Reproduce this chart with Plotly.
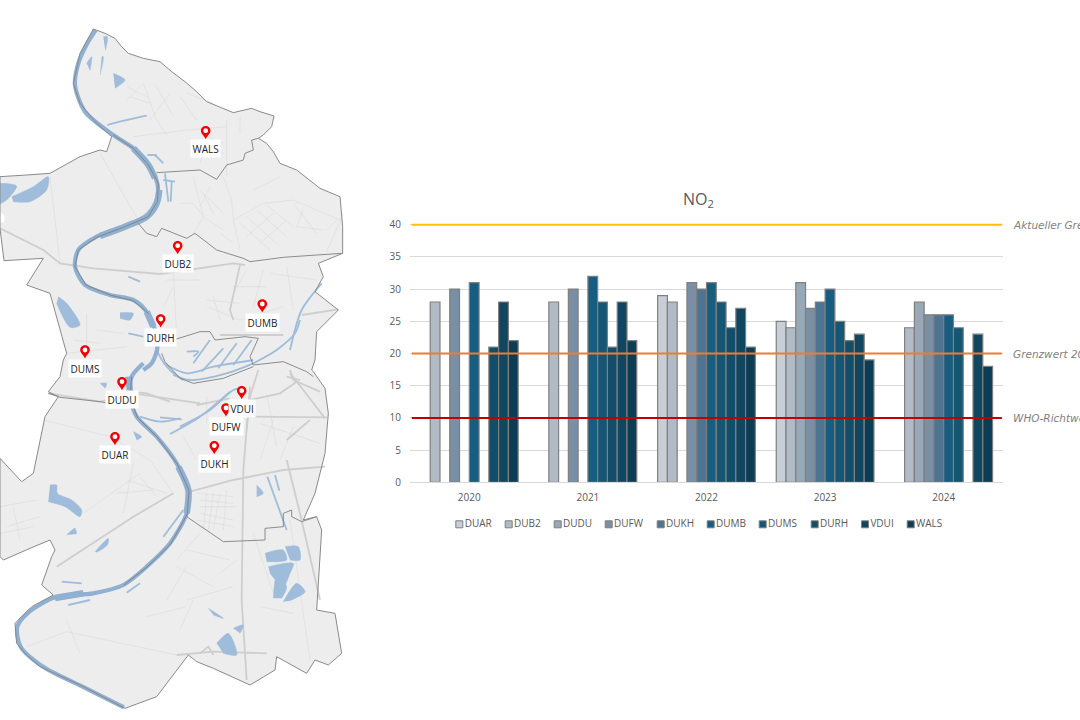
import plotly.graph_objects as go

years = ["2020", "2021", "2022", "2023", "2024"]
stations = ["DUAR", "DUB2", "DUDU", "DUFW", "DUKH", "DUMB", "DUMS", "DURH", "VDUI", "WALS"]

DUAR = [None, None, 29, 25, None]
DUB2 = [28, 28, 28, 24, 24]
DUDU = [None, None, None, 31, 28]
DUFW = [30, 30, 31, 27, 26]
DUKH = [None, None, 30, 28, 26]
DUMB = [31, 32, 31, 30, 26]
DUMS = [None, 28, 28, 25, 24]
DURH = [21, 21, 24, 22, None]
VDUI = [28, 28, 27, 23, 23]
WALS = [22, 22, 21, 19, 18]
series = [DUAR, DUB2, DUDU, DUFW, DUKH, DUMB, DUMS, DURH, VDUI, WALS]

bar_colors = ["#c7ced6", "#b1bbc6", "#98a8b6", "#7a8fa4", "#4d7490",
              "#175d80", "#145674", "#124d69", "#10465f", "#0d3d55"]

limit_values = [40, 20, 10]
limit_colors = ["#ffc000", "#ed7d31", "#c00000"]
limit_names = ["Aktueller Grenzwert", "Grenzwert 2030", "WHO-Richtwert"]

legend_x = [459.3, 508.7, 557.7, 608.7, 660.7, 710.7, 762.7, 814.7, 865, 910.7]

# stations on the map, in picture pixels
pin_x = [115, 177.7, 122, 226, 214.3, 262.3, 85, 160.7, 241.7, 205.7]
pin_y = [436.7, 245.7, 381.7, 408, 445.7, 304, 350, 319, 390.7, 130.7]
label_x = [115, 178, 122, 226, 214, 262, 85, 160.7, 241.7, 205.7]
label_y = [454, 263, 399, 426, 463, 322, 368, 337, 408, 148]

outline_n = [(280,27),(315,40),(345,55),(365,80),(385,100),(430,115),(480,125),(515,155),(555,185),(590,215),(620,245),
             (660,262),(700,278),(755,265),(780,275),(822,288),(815,320),(790,345),(775,355),(800,370),(820,395),(840,430),
             (890,450),(960,505),(1020,530),(1028,620),(1028,700),(955,730),(970,770),(945,815),(1015,870),(950,935),(945,1020),(935,1050)]
outline_s = [(940,35),(975,85),(985,160),(975,280),(945,400),(910,480),(950,470),(965,510),(950,750),(1005,760),
             (1025,880),(985,915),(945,900),(920,940),(830,890),(825,930),(750,975),(640,925),(590,905),(565,885),
             (470,1010),(375,1045),(250,980),(120,920),(80,885),(50,850),(45,790),(95,740),(160,705),(125,675),(155,590),
             (165,570),(150,540),(90,565),(10,600),(0,590),(0,295),(65,365),(100,340),(135,170),(175,110),(145,95),(180,50),(190,0)]
outline_n2 = [(200,1000),(150,820),(80,795),(130,715),(12,722),(0,625),(0,470),(80,465),(150,460),(240,410),
              (300,390),(320,395),(335,350),(290,310),(240,250),(220,190),(240,100),(280,27)]

rhine_n = [(287,30),(262,70),(235,130),(225,195),(255,275),(340,345),(400,385),(445,435),(472,490),(470,540),
           (440,590),(370,620),(290,650),(235,690),(225,740),(255,795),(330,825),(400,840),(440,875),(465,930),(472,985),(455,1030),(430,1050)]
rhine_s = [(430,10),(395,50),(390,110),(410,170),(470,230),(530,310),(565,390),(560,460),(510,550),(440,620),
           (370,675),(280,700),(165,712),(85,758),(52,800),(62,860),(132,922),(252,982),(372,1042)]
rhine_wide_n = [[(400,385),(445,435),(465,475)],[(478,510),(470,550),(440,590),(380,618),(300,648)],[(440,875),(460,920)]]
rhine_wide_s = [[(535,320),(565,390),(560,460)],[(250,700),(165,714)],[(385,50),(392,110)]]
border_n = [[(340,345),(400,385),(445,435),(475,490),(472,545),(445,590),(370,622),(290,652),(235,690),(225,740),(258,795),(330,825),(400,842),(445,880)],
            [(470,458),(600,450),(650,478),(680,435),(730,420),(735,400),(760,390),(755,360),(775,355)],
            [(415,610),(440,640),(470,650),(485,625),(560,655),(585,640),(650,690),(730,715),(750,725),(850,712),(950,705),(1028,700)]]
border_s = [[(395,50),(390,110),(412,172),(472,232),(532,312),(567,392),(562,462),(512,552),(442,620),(372,675)],
            [(560,470),(670,545),(795,540),(795,505),(850,500),(850,460),(875,450),(875,470),(905,485),(950,470)],
            [(145,100),(180,112),(300,125),(380,140)]]
border_p = [[(130,60),(210,35),(240,35),(255,60),(345,50),(385,55),(360,110),(370,135),(460,125),(530,155),(550,170)],
            [(95,100),(105,125),(150,175),(190,190),(280,175),(370,140)]]

water_n = [[(35,530),(100,500),(145,470),(140,510),(90,545),(40,545)],
           [(0,490),(50,498),(20,540),(0,552)],
           [(175,830),(200,850),(240,915),(210,922),(170,850)],
           [(360,878),(400,880),(390,900),(360,895)],
           [(260,130),(275,110),(270,152)],[(305,110),(310,110),(300,165)],
           [(340,160),(375,180),(345,205)],[(310,50),(322,50),(316,92)]]
water_s = [[(150,375),(170,375),(172,400),(215,420),(245,450),(240,470),(195,440),(145,425)],
           [(285,575),(325,535),(322,555),(290,577)],[(200,525),(225,505),(230,522)],
           [(795,580),(850,570),(860,600),(800,605)],[(855,560),(895,560),(900,600),(870,600)],
           [(805,620),(880,610),(870,640),(850,680),(810,640)],[(820,715),(830,650),(860,680),(845,715)],
           [(850,725),(890,670),(915,695),(870,722)],[(650,850),(685,820),(710,885),(670,880)],
           [(700,805),(730,795),(720,820)],[(625,745),(670,775),(640,765)],
           [(400,215),(425,230),(410,240)],[(770,375),(790,400),(770,410)],[(300,70),(320,70),(315,85)]]
channel_n = [[(322,315),(360,305),(440,287)],[(442,405),(470,405)],[(465,405),(490,430)],
             [(495,460),(505,545)],[(490,480),(525,485)],[(515,485),(512,545)],
             [(385,940),(430,950)],[(385,770),(420,785)],[(965,790),(905,870),(870,990)]]
channel_s = [[(510,222),(600,170),(690,95)],[(480,172),(545,178)],
             [(490,530),(550,450)],[(380,698),(420,670)],[(205,735),(270,720)],[(185,665),(245,670)],
             [(802,350),(860,510)],[(825,345),(838,392)]]
channel_p = [[(240,60),(190,130)],[(280,85),(215,155)],[(320,70),(265,145)],[(365,60),(310,135)],
             [(100,130),(170,160),(250,140),(370,120)],[(130,165),(180,180),(290,160),(370,130)],
             [(370,130),(440,90),(495,40),(510,0)],[(170,95),(205,95),(190,110)],[(75,60),(85,100),(120,150),(160,180)],
             [(150,320),(240,270),(310,210),(330,205)],[(30,290),(90,305),(150,295)],[(70,70),(60,30)]]

highway_n = [[(0,625),(130,690),(180,730),(280,745),(480,762),(700,730),(735,735)],
             [(660,945),(850,945)],[(905,885),(1015,868)],
             [(720,735),(690,870),(700,900)]]
highway_s = [[(145,100),(300,125),(400,100),(600,130)],
             [(570,395),(700,360),(850,330),(975,320)],
             [(170,620),(400,470),(520,400)],
             [(750,80),(730,330),(725,720),(740,960)],
             [(870,40),(910,90),(975,175)],[(860,300),(900,460),(960,720)],
             [(530,885),(640,875),(800,880)],
             [(750,170),(980,172)],[(860,240),(930,180)],[(600,880),(625,860),(640,885)]]
highway_p = [[(270,45),(450,45)],[(385,150),(360,230),(350,330)],[(480,150),(490,180),(570,215)],
             [(360,240),(450,220),(500,185)],[(200,255),(300,235)],[(0,215),(50,220),(120,245)],[(470,170),(510,180)]]
street_n = [[(430,190),(470,300),(500,345)],[(380,240),(430,190)],[(560,220),(640,250)],[(400,350),(560,330),(680,320)],
            [(300,400),(420,610)],[(150,470),(180,730)],[(680,300),(680,470)],
            [(520,750),(530,950)],[(620,860),(720,900),(850,860)],[(700,820),(740,750)],[(790,750),(760,860)],[(200,1000),(380,980)],
            [(380,200),(440,230)],[(390,230),(450,250)],[(470,200),(520,290)],[(510,220),(450,300)],[(540,230),(590,300)],
            [(600,340),(670,370)],[(590,400),(670,400)],[(620,360),(600,430)],[(720,290),(720,340)],
            [(700,800),(800,800)],[(620,840),(720,850)],[(640,830),(660,900)],[(520,800),(490,860)],[(500,780),(600,780)],
            [(220,960),(300,970)],[(260,880),(260,1000)],[(290,930),(370,940)],[(810,760),(950,780)],[(860,740),(880,870)]]
street_s = [[(130,180),(330,230),(450,300),(520,400)],[(400,310),(370,460)],[(380,360),(500,400)],[(250,460),(420,340)],
            [(0,440),(110,420)],[(20,500),(120,470)],[(600,420),(700,430)],[(600,460),(700,480)],[(620,400),(610,510)],
            [(660,400),(640,510)],[(530,620),(640,680)],[(560,720),(700,680)],[(500,720),(560,620)],[(440,770),(560,740)],
            [(550,230),(590,300)],[(870,480),(930,900)],[(760,520),(820,700)],[(200,780),(240,880)],[(80,860),(200,815),(530,885)],
            [(590,400),(700,410)],[(600,440),(710,440)],[(590,480),(700,500)],[(640,400),(625,510)],[(680,390),(670,510)],
            [(420,350),(470,410)],[(350,400),(460,390)],[(40,440),(60,540)],[(0,520),(100,500)],
            [(620,110),(620,190)],[(780,190),(960,250)],[(800,100),(830,260)],[(820,180),(780,300)],[(880,200),(840,300)],
            [(560,570),(690,600)],[(530,600),(600,520)],[(540,810),(580,720)],[(660,640),(710,600)],[(780,740),(880,760)]]
street_q = [[(60,60),(130,130)],[(90,50),(60,110)],[(130,20),(155,90),(160,150),(180,240)],[(160,150),(250,100),(340,90),(480,150)],
            [(200,140),(300,230)],[(230,120),(320,200)],[(260,105),(340,170)],[(180,160),(270,240)],[(340,100),(410,190)],
            [(350,170),(430,180)],[(440,180),(470,150)],[(490,130),(440,245)],[(40,20),(70,140),(130,180)],[(0,100),(40,100),(70,140),(40,190)],
            [(200,200),(280,130)],[(240,220),(320,150)],[(70,70),(100,130)],[(120,190),(160,220)],[(370,120),(350,170)],[(220,60),(300,20)]]

holes_n = [[(0,575),(14,590),(12,605),(0,608)]]


def crop(pts, left, top):
    return [left + p[0] / 3 for p in pts], [top + p[1] / 3 for p in pts]


def merge(*groups):
    # one trace per group, parts split by None
    xs, ys = [], []
    for parts, left, top in groups:
        for part in parts:
            x, y = crop(part, left, top)
            xs += x + [None]
            ys += y + [None]
    return xs, ys


N = (0, 20)    # north half
S = (0, 360)   # south half
P = (130, 320) # harbour
Q = (180, 170) # city centre


def map_line(xs, ys, color, width, fill=None, smooth=False):
    fig.add_trace(go.Scatter(x=xs, y=ys, xaxis="x2", yaxis="y2", mode="lines", fill=fill,
                             fillcolor=color if fill else None,
                             line=dict(color=color, width=width, shape="spline" if smooth else "linear", smoothing=0.8),
                             hoverinfo="skip", showlegend=False))


fig = go.Figure()

for name, values, color in zip(stations, series, bar_colors):
    fig.add_trace(go.Bar(x=years, y=values, name=name, marker=dict(color=color, line=dict(color="#7f7f7f", width=1.2))))

ox1, oy1 = crop(outline_n, *N)
ox2, oy2 = crop(outline_s, *S)
ox3, oy3 = crop(outline_n2, *N)
map_line(ox1 + ox2 + ox3, oy1 + oy2 + oy3, "#ededed", 0, fill="toself")

xs, ys = merge((street_n, *N), (street_s, *S), (street_q, *Q))
map_line(xs, ys, "#dadada", 0.6)
xs, ys = merge((highway_n, *N), (highway_s, *S), (highway_p, *P))
map_line(xs, ys, "#cecece", 1.8)
xs, ys = merge((water_n, *N), (water_s, *S))
map_line(xs, ys, "#9fbdda", 0.5, fill="toself", smooth=True)
xs, ys = merge((holes_n, *N))
map_line(xs, ys, "#ffffff", 0, fill="toself", smooth=True)
xs, ys = merge((channel_n, *N), (channel_s, *S), (channel_p, *P))
map_line(xs, ys, "#9fbdda", 1.8, smooth=True)
xs, ys = merge(([rhine_n], *N), ([rhine_s], *S))
map_line(xs, ys, "#8fb0d0", 4.2, smooth=True)
xs, ys = merge((rhine_wide_n, *N), (rhine_wide_s, *S))
map_line(xs, ys, "#8fb0d0", 6.5, smooth=True)
xs, ys = merge((border_n, *N), (border_s, *S), (border_p, *P))
map_line(xs, ys, "#808080", 0.9)
map_line(ox1 + ox2 + ox3, oy1 + oy2 + oy3, "#8a8a8a", 1)

# hand made legend, the built-in one cannot get this tight
fig.add_trace(go.Scatter(x=legend_x, y=[524.3] * len(legend_x), xaxis="x2", yaxis="y2", mode="markers+text",
                         marker=dict(symbol="square", size=7, color=bar_colors, line=dict(color="#7f7f7f", width=1)),
                         text=stations, textposition="middle right",
                         textfont=dict(family="Open Sans", size=10, color="#595959"),
                         hoverinfo="skip", showlegend=False))

for cx, cy in zip(pin_x, pin_y):
    path = (f"M {cx},{cy + 8.5} C {cx - 1.5},{cy + 5} {cx - 4.8},{cy + 3} {cx - 4.8},{cy} "
            f"C {cx - 4.8},{cy - 6.4} {cx + 4.8},{cy - 6.4} {cx + 4.8},{cy} "
            f"C {cx + 4.8},{cy + 3} {cx + 1.5},{cy + 5} {cx},{cy + 8.5} Z")
    fig.add_shape(type="path", path=path, xref="x2", yref="y2", fillcolor="#f00000", line_width=0)
    fig.add_shape(type="circle", xref="x2", yref="y2", x0=cx - 2.4, x1=cx + 2.4, y0=cy - 2.4, y1=cy + 2.4,
                  fillcolor="white", line_width=0)

for name, lx, ly in zip(stations, label_x, label_y):
    fig.add_annotation(x=lx, y=ly, xref="x2", yref="y2", text=name, showarrow=False, bgcolor="white", borderpad=1.5,
                       font=dict(family="Open Sans", size=10, color="#222222"))

for value, color, name in zip(limit_values, limit_colors, limit_names):
    fig.add_shape(type="line", xref="x domain", yref="y", x0=0.003, x1=0.998, y0=value, y1=value,
                  line=dict(color=color, width=2))
    fig.add_annotation(x=1011 / 1080, y=value, xref="paper", yref="y", text=f"<i>{name}</i>", showarrow=False,
                       xanchor="left", font=dict(family="DejaVu Sans", size=10.5, color="#7f7f7f"))

fig.add_annotation(x=698 / 1080, y=199, xref="paper", yref="y2", text="NO<sub>2</sub>", showarrow=False,
                   font=dict(family="Open Sans", size=16, color="#595959"))

fig.update_layout(
    width=1080, height=720, margin=dict(l=0, r=0, t=0, b=0),
    paper_bgcolor="white", plot_bgcolor="rgba(0,0,0,0)",
    barmode="group", bargap=0.176, bargroupgap=0, showlegend=False,
    xaxis=dict(domain=[410 / 1080, 1003 / 1080], type="category", showline=True, linecolor="#d9d9d9", linewidth=1,
               showgrid=False, ticks="", ticklabelstandoff=6, automargin=False,
               tickfont=dict(family="Open Sans", size=10, color="#595959")),
    yaxis=dict(domain=[(720 - 482.3) / 720, (720 - 221.5) / 720], range=[0, 40.5], tickvals=[0, 5, 10, 15, 20, 25, 30, 35, 40],
               showgrid=True, gridcolor="#d9d9d9", gridwidth=1, zeroline=False, ticks="", ticklabelstandoff=8, automargin=False,
               tickfont=dict(family="Open Sans", size=10, color="#595959")),
    xaxis2=dict(domain=[0, 1], range=[0, 1080], visible=False, anchor="y2", automargin=False),
    yaxis2=dict(domain=[0, 1], range=[720, 0], visible=False, anchor="x2", automargin=False),
)

fig.write_html("out.html", post_script="document.body.style.margin = '0';", config=dict(displayModeBar=False))
